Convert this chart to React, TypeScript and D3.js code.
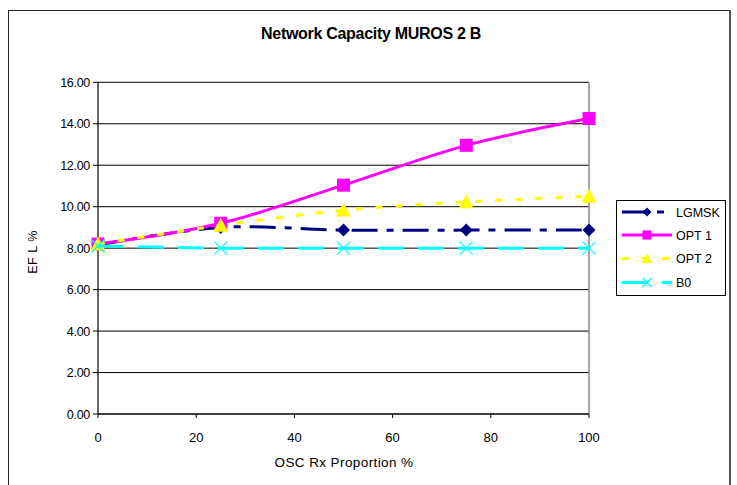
import React from "react";
import * as d3 from "d3";

const xValues = [0, 25, 50, 75, 100];
const lgmsk = [8.15, 9.0, 8.87, 8.87, 8.87];
const opt1 = [8.2, 9.2, 11.04, 12.96, 14.25];
const opt2 = [8.2, 9.1, 9.83, 10.23, 10.5];
const b0 = [8.1, 8.0, 8.0, 8.0, 8.0];
const yTicks = [0, 2, 4, 6, 8, 10, 12, 14, 16];
const xTicks = [0, 20, 40, 60, 80, 100];
const seriesNames = ["LGMSK", "OPT 1", "OPT 2", "B0"];

const W = 737;
const H = 485;
const FONT = "Liberation Sans, Arial, sans-serif";

type Series = {
  name: string;
  values: number[];
  color: string;
  dash: string;
  marker: "diamond" | "square" | "triangle" | "x";
};

const series: Series[] = [
  { name: seriesNames[0], values: lgmsk, color: "#000080", dash: "26,9,7,9", marker: "diamond" },
  { name: seriesNames[1], values: opt1, color: "#FF00FF", dash: "none", marker: "square" },
  { name: seriesNames[2], values: opt2, color: "#FFFF00", dash: "7,13", marker: "triangle" },
  { name: seriesNames[3], values: b0, color: "#00FFFF", dash: "26,14", marker: "x" },
];

function Marker({ type, x, y, color, s = 1 }: { type: string; x: number; y: number; color: string; s?: number }) {
  if (type === "square") {
    const a = 13 * s;
    return <rect x={x - a / 2} y={y - a / 2} width={a} height={a} fill={color} />;
  }
  if (type === "diamond") {
    const a = 6.5 * s;
    return <path d={`M${x},${y - a}L${x + a},${y}L${x},${y + a}L${x - a},${y}Z`} fill={color} />;
  }
  if (type === "triangle") {
    const a = 7.5 * s;
    return <path d={`M${x},${y - a}L${x + a},${y + a * 0.85}L${x - a},${y + a * 0.85}Z`} fill={color} />;
  }
  const a = 6.5 * s;
  return (
    <path
      d={`M${x - a},${y - a}L${x + a},${y + a}M${x - a},${y + a}L${x + a},${y - a}`}
      stroke={color}
      strokeWidth={1.3}
      fill="none"
    />
  );
}

export default function App() {
  const x = d3.scaleLinear().domain([0, 100]).range([98, 589]);
  const y = d3.scaleLinear().domain([0, 16]).range([414, 82.3]);
  const line = d3
    .line<number>()
    .x((_, i) => x(xValues[i]))
    .y((d) => y(d))
    .curve(d3.curveCardinal.tension(0));

  const legendY = [212, 235, 258.5, 282.5];

  return (
    <svg width={W} height={H} style={{ position: "absolute", left: 0, top: 0 }} fontFamily={FONT}>
      <rect x={0} y={0} width={W} height={H} fill="#fff" />
      <rect x={8.5} y={10.5} width={721} height={490} fill="#fff" stroke="#222" strokeWidth={1} />
      <line x1={730} y1={10} x2={730} y2={H} stroke="#555" strokeWidth={2} />
      <text x={371} y={39} textAnchor="middle" fontSize={16} fontWeight="bold" fill="#000" letterSpacing={-0.3}>
        Network Capacity MUROS 2 B
      </text>

      {yTicks.map((t) => (
        <g key={t}>
          <line x1={x(0) - 5} x2={x(100)} y1={y(t)} y2={y(t)} stroke="#000" strokeWidth={1} />
          <text x={90} y={y(t) + 4.5} textAnchor="end" fontSize={12.5} fill="#000" letterSpacing={-0.3}>
            {t.toFixed(2)}
          </text>
        </g>
      ))}
      <line x1={x(100)} x2={x(100)} y1={y(16)} y2={y(0)} stroke="#888" strokeWidth={1.5} />
      <line x1={x(0)} x2={x(0)} y1={y(16)} y2={y(0)} stroke="#000" strokeWidth={1.2} />
      <line x1={x(0)} x2={x(100)} y1={y(0)} y2={y(0)} stroke="#000" strokeWidth={1.2} />
      {xTicks.map((t) => (
        <g key={t}>
          <line x1={x(t)} x2={x(t)} y1={y(0)} y2={y(0) + 4} stroke="#000" />
          <text x={x(t)} y={442} textAnchor="middle" fontSize={13} fill="#000">
            {t}
          </text>
        </g>
      ))}
      <text x={344} y={467} textAnchor="middle" fontSize={13.5} fill="#000" letterSpacing={0.4}>
        OSC Rx Proportion %
      </text>
      <text transform={`translate(37,252) rotate(-90)`} textAnchor="middle" fontSize={12.5} fill="#000" letterSpacing={0.5}>
        EF L %
      </text>

      {series.map((s) => (
        <g key={s.name}>
          <path d={line(s.values) || ""} fill="none" stroke={s.color} strokeWidth={3} strokeDasharray={s.dash} />
          {s.values.map((v, i) => (
            <Marker key={i} type={s.marker} x={x(xValues[i])} y={y(v)} color={s.color} />
          ))}
        </g>
      ))}

      <rect x={616.5} y={200.5} width={109} height={95} fill="#fff" stroke="#000" strokeWidth={1} />
      {series.map((s, k) => {
        const ly = legendY[k];
        return (
          <g key={s.name}>
            <line x1={622} x2={672} y1={ly} y2={ly} stroke={s.color} strokeWidth={3} strokeDasharray={s.dash} />
            <Marker type={s.marker} x={647} y={ly} color={s.color} s={0.7} />
            <text x={676} y={ly + 4.5} fontSize={12.5} fill="#000">
              {s.name}
            </text>
          </g>
        );
      })}
    </svg>
  );
}
